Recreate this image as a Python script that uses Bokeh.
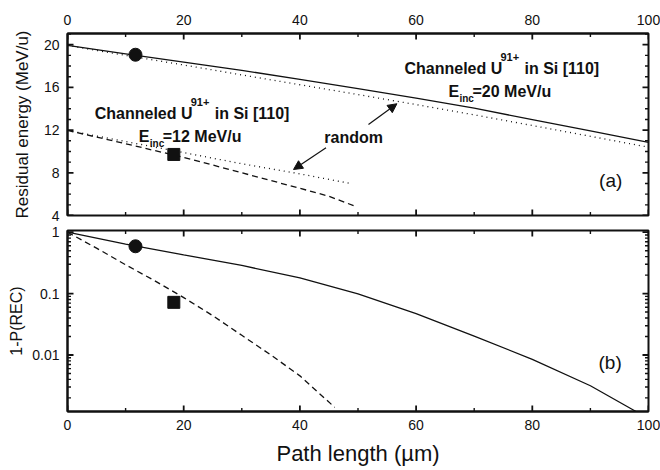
import math
from bokeh.plotting import figure
from bokeh.layouts import column
from bokeh.models import (LinearAxis, LogAxis, FixedTicker, CustomJSTickFormatter,
                          Range1d, Label, Arrow, NormalHead)
from bokeh.embed import file_html
from bokeh.resources import INLINE

FONT = "Liberation Sans"
INK = "#111111"

# ---------------- data ----------------
# panel (a): residual energy (MeV/u) vs path length (um)
path_ch20 = [0, 10, 20, 30, 40, 50, 60, 70, 80, 90, 100]
energy_ch20 = [19.93, 19.15, 18.37, 17.6, 16.75, 15.88, 14.99, 14.05, 12.98, 11.93, 10.85]
path_rnd20 = [0, 10, 20, 30, 40, 50, 60, 70, 80, 90, 100]
energy_rnd20 = [19.93, 19.0, 18.1, 17.17, 16.25, 15.33, 14.39, 13.43, 12.43, 11.42, 10.4]
path_ch12 = [0, 10, 20, 30, 40, 45, 49.5]
energy_ch12 = [11.97, 10.72, 9.45, 8.0, 6.55, 5.8, 4.87]
path_rnd12 = [0, 10, 20, 30, 40, 49]
energy_rnd12 = [11.97, 10.93, 9.89, 8.85, 7.9, 6.97]

# experimental points (circle: 20 MeV/u, square: 12 MeV/u)
exp_path_20 = [11.7]
exp_energy_20 = [19.06]
exp_surv_20 = [0.59]
exp_path_12 = [18.3]
exp_energy_12 = [9.72]
exp_surv_12 = [0.072]

# panel (b): 1-P(REC)
path_surv20 = [0, 10, 20, 30, 40, 50, 60, 70, 80, 90, 98]
surv20 = [1.0, 0.638, 0.426, 0.287, 0.181, 0.099, 0.047, 0.0203, 0.0085, 0.00315, 0.00118]
path_surv12 = [0, 5, 10, 15, 20, 25, 30, 35, 40, 46]
surv12 = [1.0, 0.55, 0.295, 0.162, 0.0861, 0.0437, 0.0209, 0.0100, 0.00457, 0.0014]

# ticks
x_lo, x_hi = 0, 100
x_major = [0, 20, 40, 60, 80, 100]
x_minor = [10, 30, 50, 70, 90]
ya_lo, ya_hi = 4, 21.05
ya_major = [4, 8, 12, 16, 20]
ya_minor = [5, 6, 7, 9, 10, 11, 13, 14, 15, 17, 18, 19, 21]
yb_lo, yb_hi = 0.0012, 1.066
yb_major = [0.01, 0.1, 1]
yb_minor = [m * 10.0 ** e for e in (-3, -2, -1) for m in range(2, 10)]

# geometry (px)
W = 660
BL, BR = 67, 12
H1, BT1, BB1 = 222, 33, 7
H2, BT2, BB2 = 248, 8, 59
FW = W - BL - BR
FH1 = H1 - BT1 - BB1
FH2 = H2 - BT2 - BB2
MAJ, MIN = 6, 3.5          # tick lengths (px)
MAJ_W, MIN_W = 1.8, 1.4    # tick widths (px)


def style_axis(ax, size="14px"):
    ax.axis_line_width = 2
    ax.axis_line_color = INK
    ax.major_tick_in = 0
    ax.major_tick_out = 0
    ax.minor_tick_in = 0
    ax.minor_tick_out = 0
    ax.major_tick_line_color = None
    ax.minor_tick_line_color = None
    ax.major_label_text_font = FONT
    ax.major_label_text_color = INK
    ax.major_label_text_font_size = size
    ax.major_label_standoff = 8
    ax.axis_label_text_font = FONT
    ax.axis_label_text_font_style = "normal"
    ax.axis_label_text_color = INK


def frame_ticks(p, y_lo, y_hi, y_major, y_minor, fh, log=False):
    """Inward tick marks on all four sides of the frame, drawn as thin filled quads."""
    dx = (x_hi - x_lo) / FW
    if log:
        dec = math.log10(y_hi / y_lo) / fh
        up = lambda y, px: y * 10 ** (px * dec)
    else:
        dy = (y_hi - y_lo) / fh
        up = lambda y, px: y + px * dy
    for xs, ln, w in ((x_major, MAJ, MAJ_W), (x_minor, MIN, MIN_W)):
        left = [x - w / 2 * dx for x in xs]
        right = [x + w / 2 * dx for x in xs]
        p.quad(left=left, right=right, bottom=[y_lo] * len(xs), top=[up(y_lo, ln)] * len(xs),
               fill_color=INK, line_color=None)
        p.quad(left=left, right=right, bottom=[up(y_hi, -ln)] * len(xs), top=[y_hi] * len(xs),
               fill_color=INK, line_color=None)
    for ys, ln, w in ((y_major, MAJ, MAJ_W), (y_minor, MIN, MIN_W)):
        bot = [up(y, -w / 2) for y in ys]
        top = [up(y, w / 2) for y in ys]
        p.quad(left=[x_lo] * len(ys), right=[x_lo + ln * dx] * len(ys), bottom=bot, top=top,
               fill_color=INK, line_color=None)
        p.quad(left=[x_hi - ln * dx] * len(ys), right=[x_hi] * len(ys), bottom=bot, top=top,
               fill_color=INK, line_color=None)


# ---------------- panel (a) ----------------
p1 = figure(width=W, height=H1, x_range=Range1d(x_lo, x_hi), y_range=Range1d(ya_lo, ya_hi),
            output_backend="svg", toolbar_location=None,
            x_axis_location=None, y_axis_location=None,
            min_border_left=BL, min_border_right=BR, min_border_top=BT1, min_border_bottom=BB1)
p1.grid.visible = False
p1.outline_line_color = INK
p1.outline_line_width = 2

ax_top = LinearAxis(ticker=FixedTicker(ticks=x_major))
style_axis(ax_top)
ax_top.major_label_standoff = 9
p1.add_layout(ax_top, "above")
ay_l = LinearAxis(ticker=FixedTicker(ticks=ya_major), axis_label="Residual energy (MeV/u)")
style_axis(ay_l)
ay_l.axis_label_text_font_size = "17px"
ay_l.axis_label_standoff = 9
p1.add_layout(ay_l, "left")

frame_ticks(p1, ya_lo, ya_hi, ya_major, ya_minor, FH1)

p1.line(path_ch20, energy_ch20, line_color=INK, line_width=1.3)
p1.line(path_rnd20, energy_rnd20, line_color=INK, line_width=1.3, line_dash="1 4")
p1.line(path_ch12, energy_ch12, line_color=INK, line_width=1.3, line_dash="6 4")
p1.line(path_rnd12, energy_rnd12, line_color=INK, line_width=1.3, line_dash="1 4")
p1.scatter(exp_path_20, exp_energy_20, marker="circle", size=13, fill_color=INK, line_color=INK)
p1.scatter(exp_path_12, exp_energy_12, marker="square", size=12, fill_color=INK, line_color=INK)


def annotate(p, x, y, energy_txt):
    common = dict(x=x, y=y, text_font=FONT, text_font_style="bold", text_color=INK,
                  text_baseline="alphabetic", text_align="left")
    p.add_layout(Label(text="Channeled U", text_font_size="16px", **common))
    p.add_layout(Label(text="91+", text_font_size="11px", x_offset=96, y_offset=11, **common))
    p.add_layout(Label(text="in Si [110]", text_font_size="16px", x_offset=120, **common))
    p.add_layout(Label(text="E", text_font_size="16px", x_offset=44, y_offset=-23, **common))
    p.add_layout(Label(text="inc", text_font_size="10px", x_offset=55, y_offset=-30, **common))
    p.add_layout(Label(text=energy_txt, text_font_size="16px", x_offset=68, y_offset=-23, **common))


annotate(p1, 4.69, 13.59, "=12 MeV/u")
annotate(p1, 58.0, 17.81, "=20 MeV/u")

p1.add_layout(Label(x=44.2, y=11.28, text="random", text_font=FONT, text_font_style="bold",
                    text_font_size="16px", text_color=INK, text_baseline="alphabetic"))
p1.add_layout(Arrow(end=NormalHead(size=9, fill_color=INK, line_color=INK, line_width=1),
                    x_start=51.8, y_start=12.53, x_end=56.7, y_end=14.47,
                    line_color=INK, line_width=1.2))
p1.add_layout(Arrow(end=NormalHead(size=9, fill_color=INK, line_color=INK, line_width=1),
                    x_start=44.5, y_start=10.34, x_end=38.9, y_end=8.31,
                    line_color=INK, line_width=1.2))
p1.add_layout(Label(x=91.5, y=7.28, text="(a)", text_font=FONT, text_font_size="19px",
                    text_color=INK, text_baseline="alphabetic"))

# ---------------- panel (b) ----------------
p2 = figure(width=W, height=H2, x_range=Range1d(x_lo, x_hi), y_range=Range1d(yb_lo, yb_hi),
            y_axis_type="log", output_backend="svg", toolbar_location=None,
            x_axis_location=None, y_axis_location=None,
            min_border_left=BL, min_border_right=BR, min_border_top=BT2, min_border_bottom=BB2)
p2.grid.visible = False
p2.outline_line_color = INK
p2.outline_line_width = 2

ax_b2 = LinearAxis(ticker=FixedTicker(ticks=x_major), axis_label="Path length (µm)")
style_axis(ax_b2)
ax_b2.axis_label_text_font_size = "22px"
ax_b2.axis_label_standoff = 8
p2.add_layout(ax_b2, "below")
ay_l2 = LogAxis(ticker=FixedTicker(ticks=yb_major),
                formatter=CustomJSTickFormatter(code="return String(tick);"),
                axis_label="1-P(REC)")
style_axis(ay_l2)
ay_l2.axis_label_text_font_size = "16px"
ay_l2.axis_label_standoff = 4
p2.add_layout(ay_l2, "left")

frame_ticks(p2, yb_lo, yb_hi, yb_major, yb_minor, FH2, log=True)

p2.line(path_surv20, surv20, line_color=INK, line_width=1.3)
p2.line(path_surv12, surv12, line_color=INK, line_width=1.3, line_dash="6 4")
p2.scatter(exp_path_20, exp_surv_20, marker="circle", size=13, fill_color=INK, line_color=INK)
p2.scatter(exp_path_12, exp_surv_12, marker="square", size=12, fill_color=INK, line_color=INK)
p2.add_layout(Label(x=91.4, y=0.0076, text="(b)", text_font=FONT, text_font_size="19px",
                    text_color=INK, text_baseline="alphabetic"))

layout = column(p1, p2, spacing=0)
open("out.html", "w").write(file_html(layout, INLINE))
